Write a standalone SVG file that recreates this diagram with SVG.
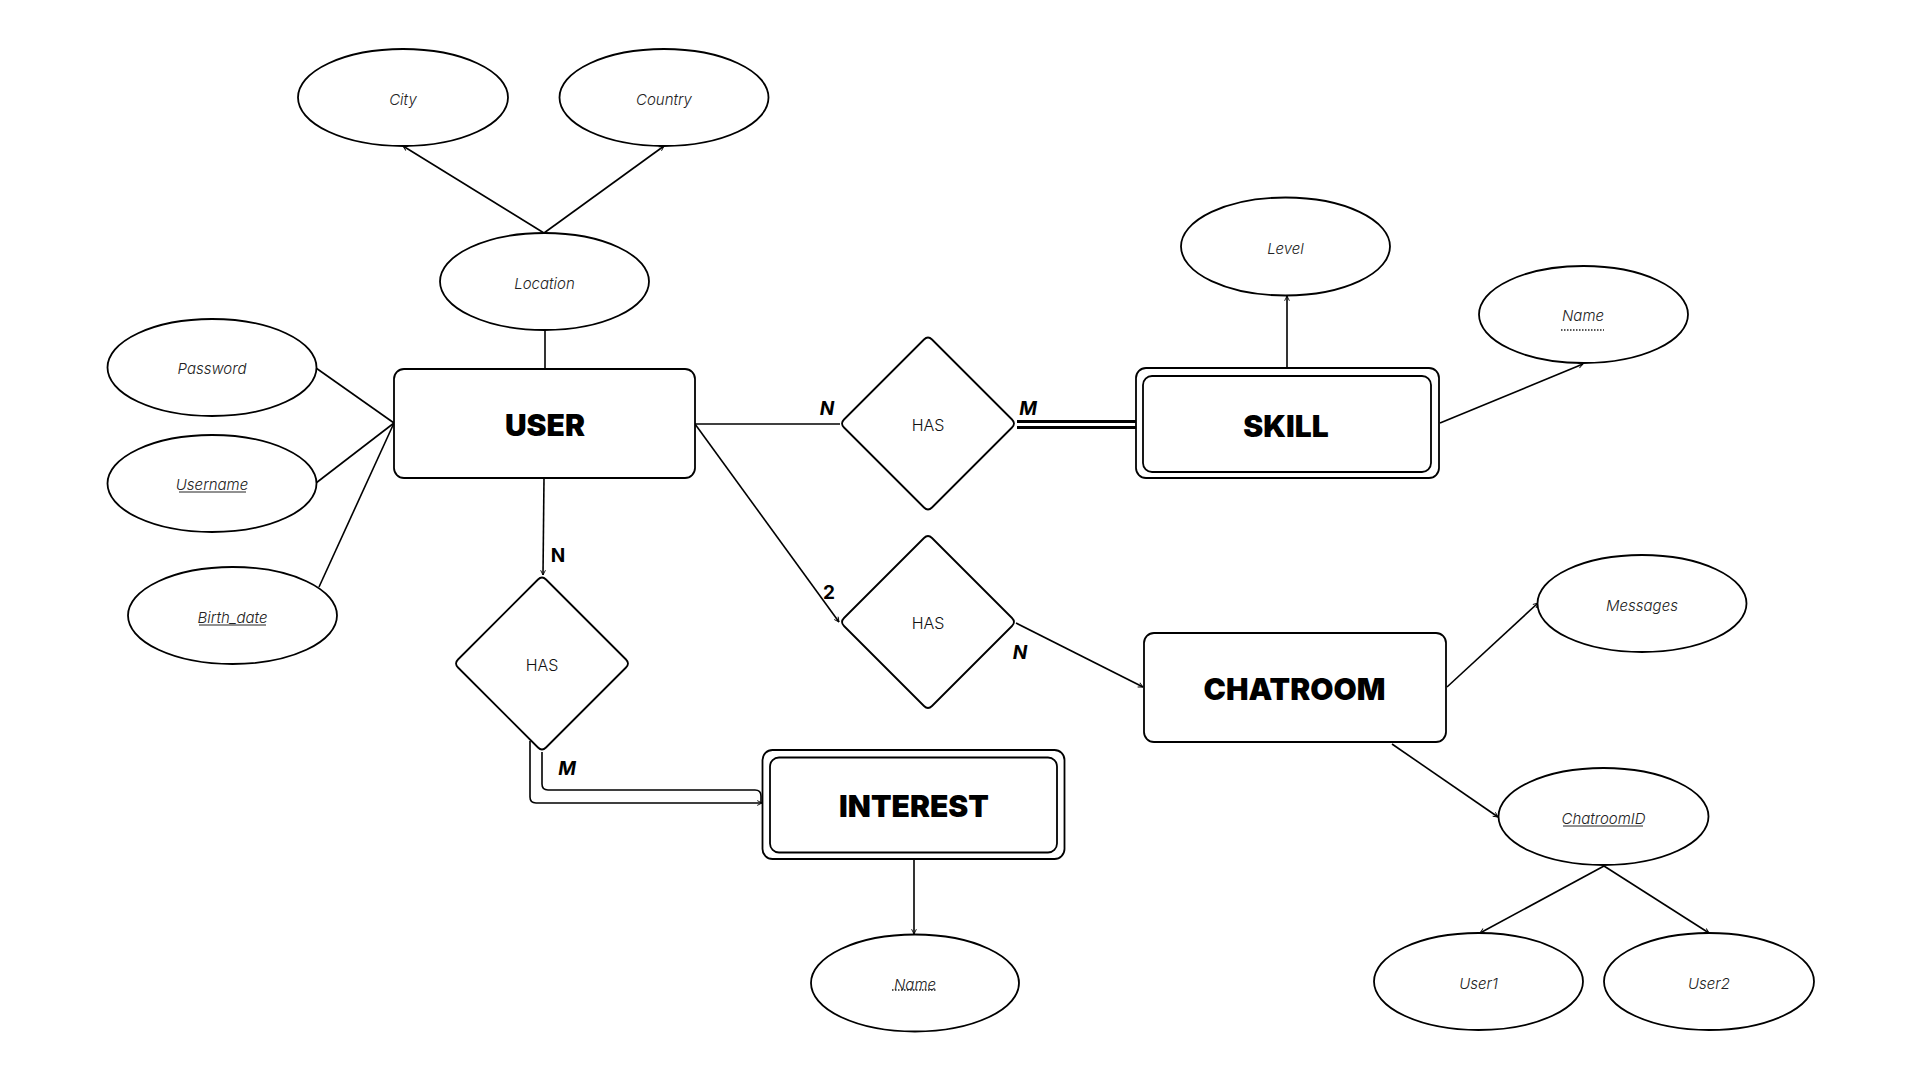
<svg xmlns="http://www.w3.org/2000/svg" width="1920" height="1080" viewBox="0 0 1920 1080">
<style>
.attr{fill:#fff;stroke:#000;stroke-width:1.8}
.ent{fill:#fff;stroke:#000;stroke-width:1.8}
.rel{fill:#fff;stroke:#000;stroke-width:1.8}
.ln{fill:none;stroke:#000;stroke-width:1.6}
.dbl{fill:none;stroke:#000;stroke-width:2.8}
.at{font-family:Inter,"Liberation Sans",sans-serif;font-style:italic;font-weight:300;font-size:15px;fill:#222;text-anchor:middle;dominant-baseline:central}
.rt{font-family:Inter,"Liberation Sans",sans-serif;font-weight:300;font-size:16px;fill:#111;text-anchor:middle;dominant-baseline:central}
.et{font-family:Inter,"Liberation Sans",sans-serif;font-weight:900;font-size:30px;fill:#000;text-anchor:middle;dominant-baseline:central}
.card{font-family:Inter,"Liberation Sans",sans-serif;font-weight:700;font-size:19px;fill:#000;text-anchor:middle;dominant-baseline:central}
.ci{font-style:italic}
.ul{stroke:#222;stroke-width:1}
.dot{stroke:#222;stroke-width:1.6;stroke-dasharray:1.5 1.5}
</style>
<defs>
<marker id="arr" viewBox="0 0 10 10" refX="9" refY="5" markerWidth="6" markerHeight="6" orient="auto" markerUnits="userSpaceOnUse">
<path d="M1,1 L9,5 L1,9" fill="none" stroke="#000" stroke-width="1.5"/>
</marker>
<path id="diamond" d="M-84,-4 L-4,-84 Q0,-88 4,-84 L84,-4 Q88,0 84,4 L4,84 Q0,88 -4,84 L-84,4 Q-88,0 -84,-4 Z"/>
</defs>
<rect width="1920" height="1080" fill="#fff"/>

<g id="connectors">
<line class="ln" x1="544" y1="233" x2="403" y2="146" marker-end="url(#arr)"/>
<line class="ln" x1="544" y1="233" x2="664" y2="146" marker-end="url(#arr)"/>
<line class="ln" x1="545" y1="330" x2="545" y2="369"/>
<line class="ln" x1="316" y1="368" x2="394" y2="423"/>
<line class="ln" x1="316" y1="483" x2="394" y2="423"/>
<line class="ln" x1="319" y1="587" x2="394" y2="423"/>
<line class="ln" x1="544" y1="478" x2="543" y2="575" marker-end="url(#arr)"/>
<line class="ln" x1="695" y1="424" x2="840" y2="424"/>
<line class="ln" x1="695" y1="424" x2="839" y2="622" marker-end="url(#arr)"/>
<line class="dbl" x1="1017" y1="421.5" x2="1136" y2="421.5"/>
<line class="dbl" x1="1017" y1="427.5" x2="1136" y2="427.5"/>
<path class="ln" d="M530,741 L530,797 Q530,803 536,803 L762,803" marker-end="url(#arr)"/>
<path class="ln" d="M542,752 L542,784 Q542,790 548,790 L755,790 Q761,790 761,796 L761,803"/>
<line class="ln" x1="914" y1="859" x2="914" y2="934" marker-end="url(#arr)"/>
<line class="ln" x1="1287" y1="368" x2="1287" y2="296" marker-end="url(#arr)"/>
<line class="ln" x1="1440" y1="423" x2="1583" y2="364" marker-end="url(#arr)"/>
<line class="ln" x1="1016" y1="623" x2="1143" y2="687" marker-end="url(#arr)"/>
<line class="ln" x1="1447" y1="687" x2="1538" y2="603" marker-end="url(#arr)"/>
<line class="ln" x1="1392" y1="744" x2="1498" y2="817" marker-end="url(#arr)"/>
<line class="ln" x1="1604" y1="866" x2="1480" y2="933" marker-end="url(#arr)"/>
<line class="ln" x1="1604" y1="866" x2="1709" y2="933" marker-end="url(#arr)"/>
</g>

<g id="card-labels">
<text class="card" x="558" y="555">N</text>
<text class="card ci" x="827" y="408">N</text>
<text class="card ci" x="1028" y="408">M</text>
<text class="card" x="829" y="592">2</text>
<text class="card ci" x="1020" y="652">N</text>
<text class="card ci" x="567" y="768">M</text>
</g>

<g id="city"><ellipse class="attr" cx="403" cy="97.5" rx="105" ry="48.5"/><text class="at" x="403" y="99">City</text></g>
<g id="country"><ellipse class="attr" cx="664" cy="97.5" rx="104.5" ry="48.5"/><text class="at" x="664" y="99">Country</text></g>
<g id="location"><ellipse class="attr" cx="544.5" cy="281.5" rx="104.5" ry="48.5"/><text class="at" x="544.5" y="283">Location</text></g>
<g id="password"><ellipse class="attr" cx="212" cy="367.5" rx="104.5" ry="48.5"/><text class="at" x="212" y="368">Password</text></g>
<g id="username"><ellipse class="attr" cx="212" cy="483.5" rx="104.5" ry="48.5"/><text class="at" x="212" y="484">Username</text><line class="ul" x1="179" y1="492" x2="246" y2="492"/></g>
<g id="birthdate"><ellipse class="attr" cx="232.5" cy="615.5" rx="104.5" ry="48.5"/><text class="at" x="232.5" y="617">Birth_date</text><line class="ul" x1="199" y1="625" x2="266" y2="625"/></g>

<g id="user"><rect class="ent" x="394" y="369" width="301" height="109" rx="10"/><text class="et" x="545" y="425">USER</text></g>

<g id="has-skill"><use href="#diamond" class="rel" x="928" y="423.5"/><text class="rt" x="928" y="425">HAS</text></g>
<g id="has-chat"><use href="#diamond" class="rel" x="928" y="622"/><text class="rt" x="928" y="623">HAS</text></g>
<g id="has-interest"><use href="#diamond" class="rel" x="542" y="663.5"/><text class="rt" x="542" y="665">HAS</text></g>

<g id="skill"><rect class="ent" x="1136" y="368" width="303" height="110" rx="10"/><rect class="ent" x="1143" y="376" width="288" height="96" rx="9"/><text class="et" x="1286" y="426">SKILL</text></g>
<g id="level"><ellipse class="attr" cx="1285.5" cy="246.5" rx="104.5" ry="49"/><text class="at" x="1285.5" y="248">Level</text></g>
<g id="skill-name"><ellipse class="attr" cx="1583.5" cy="314.5" rx="104.5" ry="48.5"/><text class="at" x="1583" y="315">Name</text><line class="dot" x1="1561" y1="330" x2="1604" y2="330"/></g>

<g id="interest"><rect class="ent" x="762.5" y="750" width="302" height="109" rx="10"/><rect class="ent" x="770" y="757.5" width="287" height="95" rx="9"/><text class="et" x="914" y="806">INTEREST</text></g>
<g id="interest-name"><ellipse class="attr" cx="915" cy="983" rx="104" ry="48.5"/><text class="at" x="915" y="984">Name</text><line class="dot" x1="892" y1="990" x2="937" y2="990"/></g>

<g id="chatroom"><rect class="ent" x="1144" y="633" width="302" height="109" rx="10"/><text class="et" x="1294.5" y="689">CHATROOM</text></g>
<g id="messages"><ellipse class="attr" cx="1642" cy="603.5" rx="104.5" ry="48.5"/><text class="at" x="1642" y="605">Messages</text></g>
<g id="chatroomid"><ellipse class="attr" cx="1603.5" cy="816.5" rx="105" ry="48.5"/><text class="at" x="1603.5" y="818">ChatroomID</text><line class="ul" x1="1563" y1="826" x2="1643" y2="826"/></g>
<g id="user1"><ellipse class="attr" cx="1478.5" cy="981.5" rx="104.5" ry="48.5"/><text class="at" x="1478.5" y="983">User1</text></g>
<g id="user2"><ellipse class="attr" cx="1709" cy="981.5" rx="105" ry="48.5"/><text class="at" x="1709" y="983">User2</text></g>
</svg>
